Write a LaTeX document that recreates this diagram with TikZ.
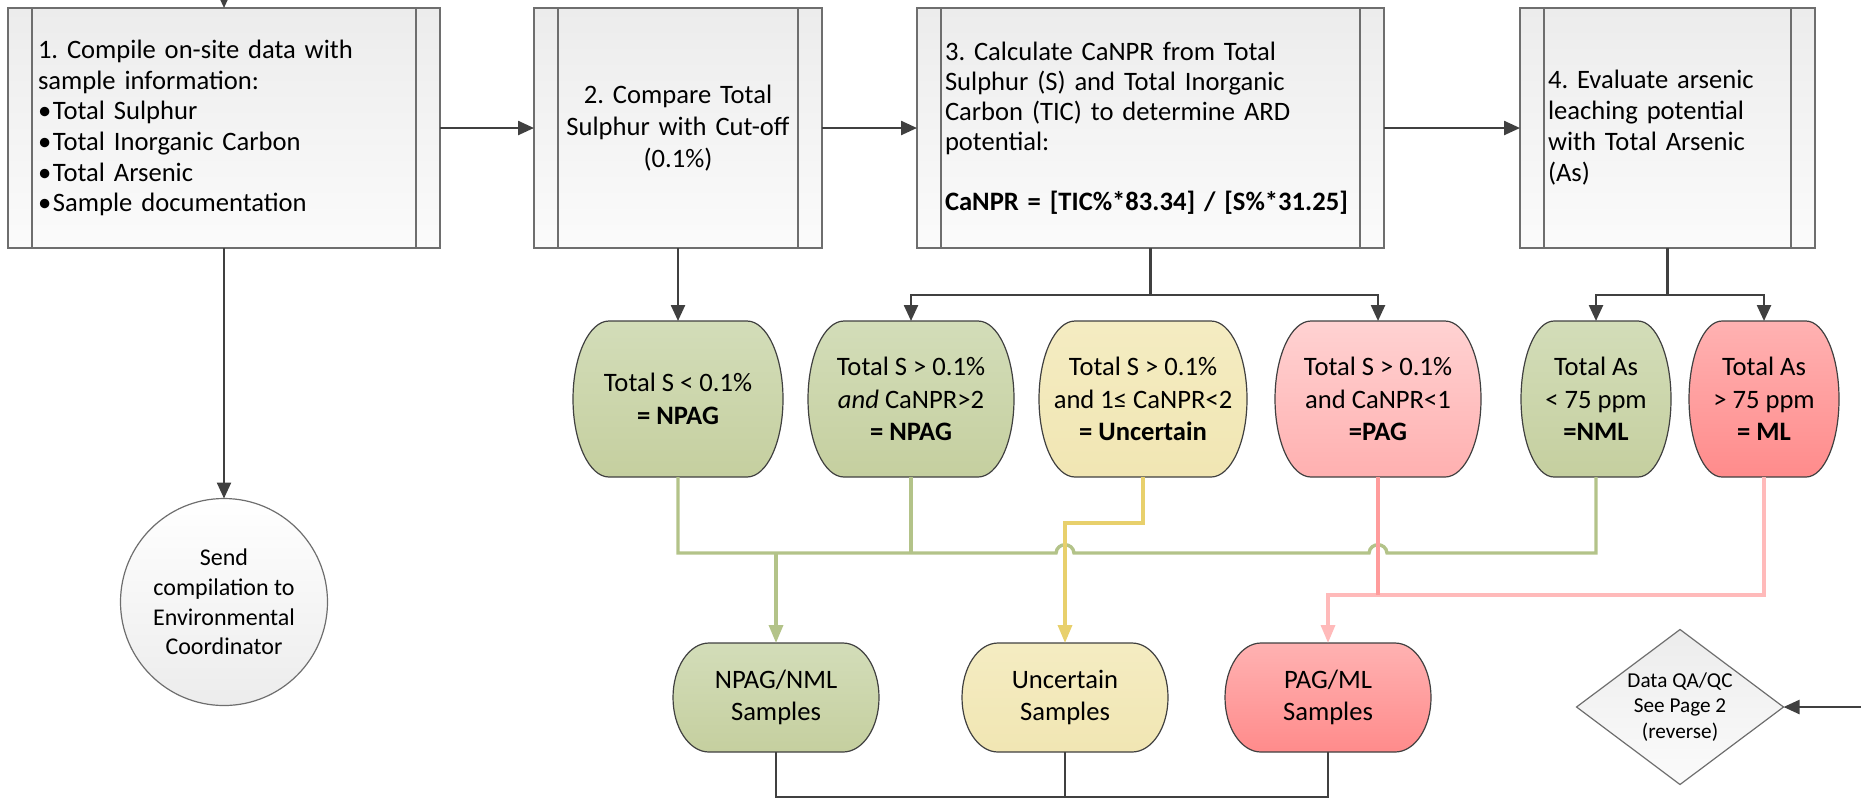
\documentclass[tikz,border=0pt]{standalone}
\usepackage{fontspec}
\setmainfont{Carlito}
\frenchspacing
\usetikzlibrary{arrows.meta,shapes.geometric}
\definecolor{dk}{HTML}{404040}
\definecolor{boxedge}{HTML}{6E6E6E}
\definecolor{boxTop}{HTML}{ECECEC}
\definecolor{boxBot}{HTML}{FBFBFB}
\definecolor{gTop}{HTML}{D3DDB9}
\definecolor{gBot}{HTML}{C5CF9F}
\definecolor{yTop}{HTML}{F4ECC2}
\definecolor{yBot}{HTML}{F1E6B3}
\definecolor{pTop}{HTML}{FFD2D2}
\definecolor{pBot}{HTML}{FFB0B0}
\definecolor{rTop}{HTML}{FFB2B2}
\definecolor{rBot}{HTML}{FF8B8B}
\definecolor{gLine}{HTML}{B3C389}
\definecolor{yLine}{HTML}{E8D06C}
\definecolor{pLine}{HTML}{FF9C9C}
\definecolor{pLineL}{HTML}{FFBABA}
\newcommand\blt{\makebox[7.5pt][l]{•}}
% capsule outline: #1 cx, #2 cy, #3 w, #4 h, #5 fill style (all in px units)
\newcommand\drawcap[5]{%
  \pgfmathsetmacro\capXl{#1-#3/2}%
  \pgfmathsetmacro\capXr{#1+#3/2}%
  \pgfmathsetmacro\capYt{#2-#4/2}%
  \pgfmathsetmacro\capYb{#2+#4/2}%
  \pgfmathsetmacro\capA{min(36,0.22*#3)}%
  \pgfmathsetmacro\capKa{0.5523*\capA}%
  \pgfmathsetmacro\capKb{0.5523*#4/2}%
  \path[capedge,#5] (\capXl+\capA,\capYt) -- (\capXr-\capA,\capYt)
    .. controls (\capXr-\capA+\capKa,\capYt) and (\capXr,#2-\capKb) .. (\capXr,#2)
    .. controls (\capXr,#2+\capKb) and (\capXr-\capA+\capKa,\capYb) .. (\capXr-\capA,\capYb)
    -- (\capXl+\capA,\capYb)
    .. controls (\capXl+\capA-\capKa,\capYb) and (\capXl,#2+\capKb) .. (\capXl,#2)
    .. controls (\capXl,#2-\capKb) and (\capXl+\capA-\capKa,\capYt) .. cycle;
}
\begin{document}
\begin{tikzpicture}[x=0.5pt,y=-0.5pt,
  procbox/.style={draw=boxedge, line width=0.6pt, top color=boxTop, bottom color=boxBot,
     minimum height=120pt, inner xsep=14pt, inner ysep=0pt, outer sep=0pt},
  innerln/.style={draw=boxedge, line width=0.6pt},
  capedge/.style={draw=dk, line width=0.6pt},
  gfill/.style={top color=gTop, bottom color=gBot},
  yfill/.style={top color=yTop, bottom color=yBot},
  pfill/.style={top color=pTop, bottom color=pBot},
  rfill/.style={top color=rTop, bottom color=rBot},
  captext/.style={inner sep=0pt, outer sep=0pt, align=center,
     font=\fontsize{13.3}{16.3}\selectfont},
  dec/.style={captext, minimum height=78pt},
  smp/.style={captext, minimum height=54.5pt, minimum width=103pt},
  arr/.style={draw=dk, line width=1.2pt, -{Triangle[length=8pt,width=7pt]}},
  dkline/.style={draw=dk, line width=1.2pt},
  dkthin/.style={draw=dk, line width=1pt},
  gline/.style={draw=gLine, line width=1.7pt},
  yline/.style={draw=yLine, line width=1.7pt},
  pline/.style={draw=pLine, line width=1.7pt},
  plinel/.style={draw=pLineL, line width=1.7pt},
  carr/.style={-{Triangle[length=9pt,width=7pt]}},
]
\useasboundingbox (0,0) rectangle (1861,800);
\clip (0,0) rectangle (1861,800);

% ---------- process boxes ----------
\node[procbox, minimum width=216pt, inner xsep=15pt, text width=186pt, align=left,
      font=\fontsize{13.3}{15.3}\selectfont] (b1) at (224,128)
  {1. Compile on-site data with\\ sample information:\\ \blt Total Sulphur\\ \blt Total Inorganic Carbon\\ \blt Total Arsenic\\ \blt Sample documentation};
\node[procbox, minimum width=144pt, text width=116pt, align=center,
      font=\fontsize{13.3}{16}\selectfont] (b2) at (678,128)
  {2. Compare Total\\ Sulphur with Cut-off\\ (0.1\%)};
\node[procbox, minimum width=233.5pt, text width=205.5pt, align=left,
      font=\fontsize{13.3}{15}\selectfont] (b3) at (1150.5,128)
  {3. Calculate CaNPR from Total\\ Sulphur (S) and Total Inorganic\\ Carbon (TIC) to determine ARD\\ potential:\\[15pt] \textbf{CaNPR = [TIC\%*83.34] / [S\%*31.25]}};
\node[procbox, minimum width=147.5pt, text width=119.5pt, align=left,
      font=\fontsize{13.3}{15.5}\selectfont] (b4) at (1667.5,128)
  {4. Evaluate arsenic\\ leaching potential\\ with Total Arsenic\\ (As)};
\foreach \b in {b1,b2,b3,b4}{
  \draw[innerln] ([xshift=12pt]\b.north west) -- ([xshift=12pt]\b.south west);
  \draw[innerln] ([xshift=-12pt]\b.north east) -- ([xshift=-12pt]\b.south east);
}

% ---------- circle and diamond ----------
\node[circle, draw=boxedge, line width=0.6pt, top color=white, bottom color=boxTop,
      minimum size=103.5pt, inner sep=0pt, outer sep=0pt, align=center,
      font=\fontsize{12}{14.8}\selectfont] (circ) at (224,602)
  {Send\\ compilation to\\ Environmental\\ Coordinator};
\node[diamond, aspect=1.335, draw=boxedge, line width=0.6pt, top color=boxTop, bottom color=boxBot,
      minimum width=103.5pt, minimum height=77.5pt, inner sep=0pt, outer sep=0pt, align=center,
      font=\fontsize{10.6}{12.6}\selectfont] (dq) at (1680,707)
  {Data QA/QC\\ See Page 2\\ (reverse)};

% ---------- decision capsules ----------
\drawcap{678}{399}{210}{156}{gfill}
\drawcap{911}{399}{206}{156}{gfill}
\drawcap{1143}{399}{208}{156}{yfill}
\drawcap{1378}{399}{206}{156}{pfill}
\drawcap{1596}{399}{150}{156}{gfill}
\drawcap{1764}{399}{150}{156}{rfill}
\node[dec, minimum width=105pt] (nA) at (678,399) {Total S < 0.1\%\\ \textbf{= NPAG}};
\node[dec, minimum width=103pt] (nB) at (911,399) {Total S > 0.1\%\\ \textit{and} CaNPR>2\\ \textbf{= NPAG}};
\node[dec, minimum width=104pt] (nC) at (1143,399) {Total S > 0.1\%\\ and 1≤ CaNPR<2\\ \textbf{= Uncertain}};
\node[dec, minimum width=103pt] (nD) at (1378,399) {Total S > 0.1\%\\ and CaNPR<1\\ \textbf{=PAG}};
\node[dec, minimum width=75pt] (nE) at (1596,399) {Total As\\ < 75 ppm\\ \textbf{=NML}};
\node[dec, minimum width=75pt] (nF) at (1764,399) {Total As\\ > 75 ppm\\ \textbf{= ML}};

% ---------- sample capsules ----------
\drawcap{776}{697.5}{206}{109}{gfill}
\drawcap{1065}{697.5}{206}{109}{yfill}
\drawcap{1328}{697.5}{206}{109}{rfill}
\node[smp] (s1) at (776,697.5) {NPAG/NML\\ Samples};
\node[smp] (s2) at (1065,697.5) {Uncertain\\ Samples};
\node[smp] (s3) at (1328,697.5) {PAG/ML\\ Samples};

% ---------- helper levels ----------
\coordinate (tbus) at (0,295);
\coordinate (ybus) at (0,523);
\coordinate (gbus) at (0,553);
\coordinate (pbus) at (0,595);
\coordinate (bbus) at (0,797);
\coordinate (topin) at (224,-20);
\coordinate (dqin) at (1880,707);

% ---------- dark connectors ----------
\draw[arr] (topin) -- (b1.north);
\draw[arr] (b1.east) -- (b2.west);
\draw[arr] (b2.east) -- (b3.west);
\draw[arr] (b3.east) -- (b4.west);
\draw[arr] (b1.south) -- (circ.north);
\draw[arr] (b2.south) -- (nA.north);
\draw[dkline] (b3.south) -- (b3.south |- tbus);
\draw[arr] (b3.south |- tbus) -| (nB.north);
\draw[arr] (b3.south |- tbus) -| (nD.north);
\draw[dkline] (b4.south) -- (b4.south |- tbus);
\draw[arr] (b4.south |- tbus) -| (nE.north);
\draw[arr] (b4.south |- tbus) -| (nF.north);
\draw[arr] (dqin) -- (dq.east);
\draw[dkthin] (s1.south) -- (s1.south |- bbus) -- (s3.south |- bbus) -- (s3.south);
\draw[dkthin] (s2.south) -- (s2.south |- bbus);

% ---------- coloured connectors ----------
\draw[gline] (nA.south) -- (nA.south |- gbus) -- (1056,553)
   .. controls (1057,542) and (1073,542) .. (1074,553) -- (1369,553)
   .. controls (1370,542) and (1386,542) .. (1387,553) -- (nE.south |- gbus) -- (nE.south);
\draw[gline] (nB.south) -- (nB.south |- gbus);
\draw[gline, carr] (s1.north |- gbus) -- (s1.north);
\draw[yline, carr] (nC.south) -- (nC.south |- ybus) -| (s2.north);
\draw[plinel, carr] (nF.south) -- (nF.south |- pbus) -| (s3.north);
\draw[pline] (nD.south) -- (nD.south |- pbus);
\end{tikzpicture}
\end{document}
